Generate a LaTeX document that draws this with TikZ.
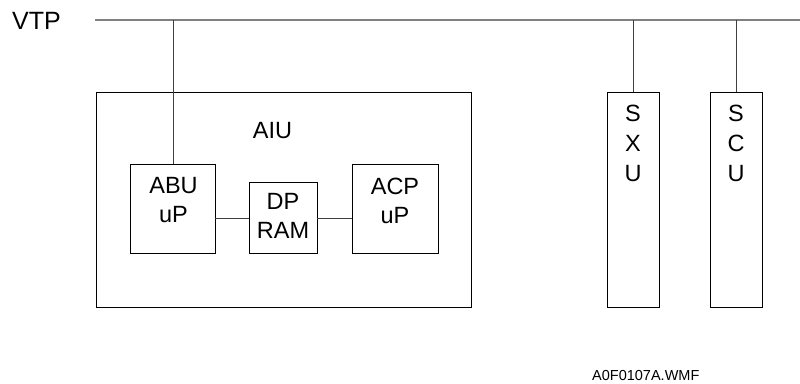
\documentclass[tikz,border=0pt]{standalone}
\usepackage{fontspec}
\setmainfont{Liberation Sans}
\begin{document}
\begin{tikzpicture}[x=1pt,y=-1pt,
  box/.style={draw=black,line width=0.9pt,inner sep=0pt,outer sep=0pt,anchor=north west},
  lbl/.style={font=\fontsize{23.5}{29}\selectfont,align=center,inner sep=0pt},
  wire/.style={draw=black!75,line width=0.9pt},
  bus/.style={draw=black!50,line width=1.4pt}]
\useasboundingbox (0,0) rectangle (800,383);
% labels
\node[font=\fontsize{25}{30}\selectfont,anchor=west,inner sep=0pt] (vtp) at (12,21) {VTP};
% bus
\coordinate (busL) at (95,20);
\coordinate (busR) at (800,20);
\draw[bus] (busL) -- (busR);
% AIU
\node[box,minimum width=375pt,minimum height=215pt] (aiu) at (96,92) {};
\node[lbl] (aiut) at (272.5,131) {AIU};
\node[box,minimum width=85pt,minimum height=89pt] (abu) at (130,164) {};
\node[lbl] (abut) at (173.5,200.5) {ABU\\uP};
\node[box,minimum width=68pt,minimum height=71pt] (dp) at (249,182) {};
\node[lbl] (dpt) at (283,216) {DP\\RAM};
\node[box,minimum width=86pt,minimum height=89pt] (acp) at (352,164) {};
\node[lbl] (acpt) at (395,201) {ACP\\uP};
\draw[wire] (abu.east |- 0,218) -- (dp.west |- 0,218);
\draw[wire] (dp.east |- 0,218) -- (acp.west |- 0,218);
\coordinate (tapA) at (173.5,20);
\draw[wire] (tapA) -- (tapA |- abu.north);
% SXU / SCU
\node[box,minimum width=52pt,minimum height=215pt] (sxu) at (607,92) {};
\node[lbl,font=\fontsize{23.5}{30}\selectfont] (sxut) at (633,143) {S\\X\\U};
\node[box,minimum width=52pt,minimum height=215pt] (scu) at (710,92) {};
\node[lbl,font=\fontsize{23.5}{30}\selectfont] (scut) at (736,143) {S\\C\\U};
\coordinate (tapX) at (633,20);
\coordinate (tapC) at (736,20);
\draw[wire] (tapX) -- (sxu.north);
\draw[wire] (tapC) -- (scu.north);
% file name
\node[font=\fontsize{14.5}{17}\selectfont,anchor=west,inner sep=0pt] (fn) at (592,376) {A0F0107A.WMF};
\end{tikzpicture}
\end{document}
